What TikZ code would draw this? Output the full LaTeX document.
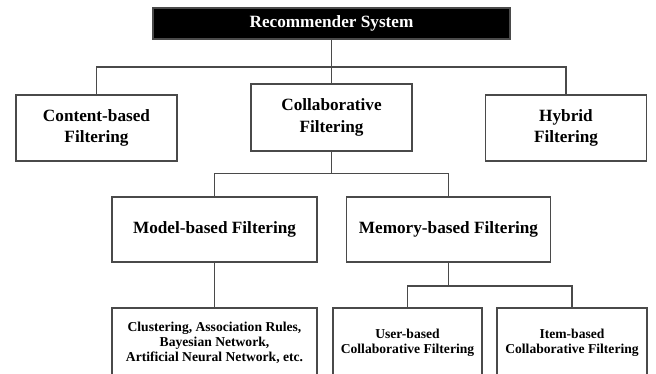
\documentclass[tikz,border=0pt]{standalone}
\usepackage{fontspec}
\setmainfont{Liberation Serif}
\definecolor{linegray}{HTML}{4A4A4A}
\tikzset{
  box/.style={draw=linegray, line width=0.8pt, fill=white, inner sep=0pt,
    align=center, font=\fontsize{12.9}{16}\selectfont\bfseries},
  smallbox/.style={box, font=\fontsize{10.2}{11.3}\selectfont\bfseries},
  conn/.style={draw=linegray, line width=0.8pt}
}
\begin{document}
\begin{tikzpicture}[x=0.75pt, y=-0.75pt]
      \useasboundingbox (0,0) rectangle (656,374);
      %
      \node[box, fill=black, text=white, minimum width=357*0.75pt, minimum height=31*0.75pt]
        (rs) at (331.5,23.5) {Recommender System};
      %
      \node[box, minimum width=161*0.75pt, minimum height=66*0.75pt]
        (cbf) at (96.5,128) {Content-based\\Filtering};
      \node[box, minimum width=161*0.75pt, minimum height=67*0.75pt]
        (cf) at (331.5,117.5) {Collaborative\\Filtering};
      \node[box, minimum width=161*0.75pt, minimum height=66*0.75pt]
        (hf) at (566,128) {Hybrid\\Filtering};
      %
      \node[box, minimum width=205*0.75pt, minimum height=65*0.75pt]
        (mbf) at (214.5,229.5) {Model-based Filtering};
      \node[box, minimum width=204*0.75pt, minimum height=65*0.75pt]
        (memf) at (448.5,229.5) {Memory-based Filtering};
      %
      \node[smallbox, minimum width=205*0.75pt, minimum height=69*0.75pt]
        (algo) at (214.5,342.5) {Clustering, Association Rules,\\Bayesian Network,\\Artificial Neural Network, etc.};
      \node[smallbox, minimum width=149*0.75pt, minimum height=69*0.75pt]
        (ucf) at (407.5,342.5) {User-based\\Collaborative Filtering};
      \node[smallbox, minimum width=150*0.75pt, minimum height=69*0.75pt]
        (icf) at (572,342.5) {Item-based\\Collaborative Filtering};
      %
      \coordinate (bus1) at (331.5,67);
      \coordinate (bus2) at (331.5,173.5);
      \coordinate (bus3) at (448.5,286);
      %
      \draw[conn] (rs.south) -- (bus1) -- (cf.north);
      \draw[conn] (cbf.north) |- (bus1) -| (hf.north);
      %
      \draw[conn] (cf.south) -- (bus2);
      \draw[conn] (mbf.north) |- (bus2) -| (memf.north);
      %
      \draw[conn] (mbf.south) -- (algo.north);
      \draw[conn] (memf.south) -- (bus3);
      \draw[conn] (ucf.north) |- (bus3) -| (icf.north);
      %
    \end{tikzpicture}
\end{document}
